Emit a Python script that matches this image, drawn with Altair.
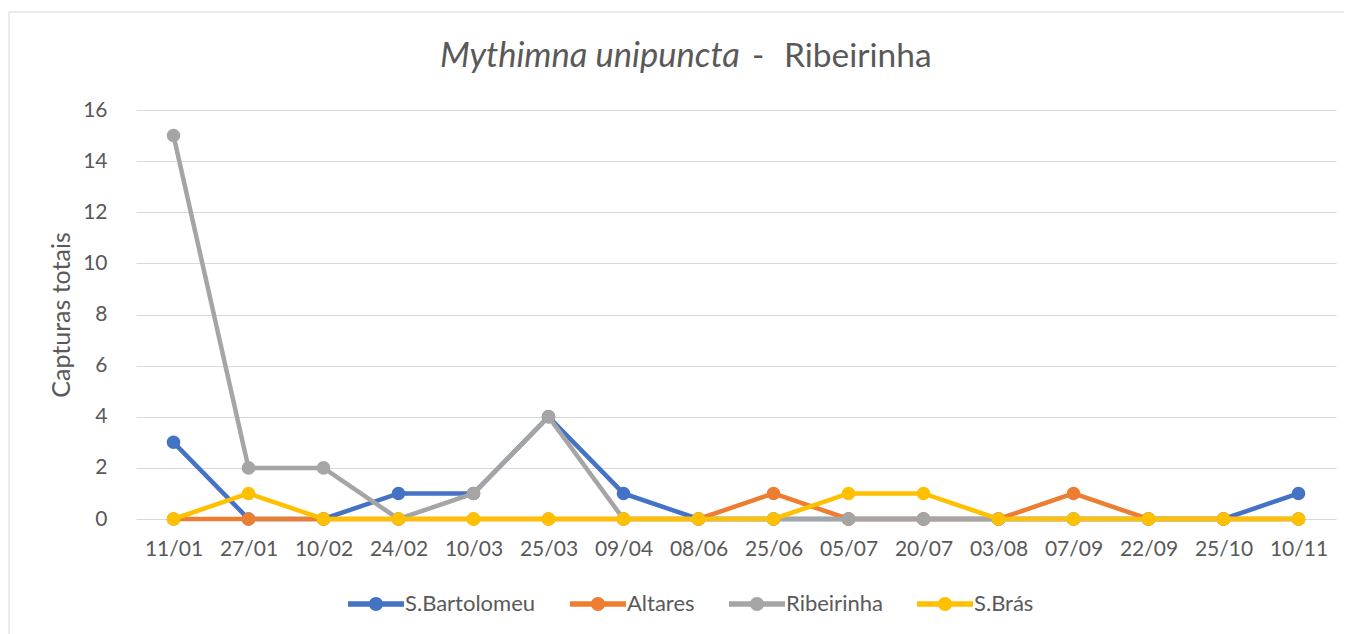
import altair as alt
import pandas as pd

dates = ["11/01", "27/01", "10/02", "24/02", "10/03", "25/03", "09/04", "08/06",
         "25/06", "05/07", "20/07", "03/08", "07/09", "22/09", "25/10", "10/11"]
series_names = ["S.Bartolomeu", "Altares", "Ribeirinha", "S.Brás"]
s_bartolomeu = [3, 0, 0, 1, 1, 4, 1, 0, 0, 0, 0, 0, 0, 0, 0, 1]
altares = [0, 0, 0, 0, 0, 0, 0, 0, 1, 0, 0, 0, 1, 0, 0, 0]
ribeirinha = [15, 2, 2, 0, 1, 4, 0, 0, 0, 0, 0, 0, 0, 0, 0, 0]
s_bras = [0, 1, 0, 0, 0, 0, 0, 0, 0, 1, 1, 0, 0, 0, 0, 0]
colors = ["#4472C4", "#ED7D31", "#A5A5A5", "#FFC000"]

title_italic = "Mythimna unipuncta"
title_dash = "-"
title_rest = "Ribeirinha"
y_title = "Capturas totais"

values = [s_bartolomeu, altares, ribeirinha, s_bras]
rows = []
for name, vals in zip(series_names, values):
    for d, v in zip(dates, vals):
        rows.append({"date": d, "series": name, "value": v})
df = pd.DataFrame(rows)

TXT = "#595959"
GRID = "#D9D9D9"

x_enc = alt.X("date:N", sort=dates, scale=alt.Scale(padding=0.5),
              axis=alt.Axis(title=None, labelAngle=0, domain=False, ticks=False,
                            labelPadding=19, labelFontSize=21, labelColor=TXT, grid=False))
y_enc = alt.Y("value:Q", scale=alt.Scale(domain=[0, 16], nice=False),
              axis=alt.Axis(values=list(range(0, 17, 2)), domain=False, ticks=False, tickSize=0,
                            labelPadding=29, labelFontSize=21, labelColor=TXT,
                            grid=True, gridColor=GRID, gridWidth=1,
                            title=y_title, titleFontSize=25, titleColor=TXT,
                            titleFontWeight="normal", titleAngle=-90, titleX=-75, titleY=204.5,
                            titleAlign="center", titleBaseline="middle"))

legend_path = ("M-1,-0.1L1,-0.1L1,0.1L-1,0.1Z "
               "M0.25,0A0.25,0.25,0,1,1,-0.25,0A0.25,0.25,0,1,1,0.25,0Z")

color_enc = alt.Color("series:N", sort=series_names,
                      scale=alt.Scale(domain=series_names, range=colors),
                      legend=alt.Legend(title=None, orient="none", legendX=212, legendY=466,
                                        direction="horizontal", columns=4,
                                        symbolType=legend_path, symbolSize=3136,
                                        symbolStrokeWidth=0, symbolOpacity=1,
                                        labelFontSize=22, labelColor=TXT, labelOffset=1,
                                        columnPadding=34, padding=0))

base = alt.Chart(df)
layers = []
for name, col in zip(series_names, colors):
    sub = base.transform_filter(alt.datum.series == name)
    layers.append(sub.mark_line(strokeWidth=4.5, color=col).encode(x=x_enc, y=y_enc))
    layers.append(sub.mark_point(filled=True, size=185, opacity=1).encode(
        x=x_enc, y=y_enc, color=color_enc))

one = pd.DataFrame({"k": [0]})
frame_top = alt.Chart(one).mark_rule(color=GRID, strokeWidth=1).encode(
    x=alt.value(-127), x2=alt.value(1216), y=alt.value(-98))
frame_left = alt.Chart(one).mark_rule(color=GRID, strokeWidth=1).encode(
    x=alt.value(-127), y=alt.value(-98), y2=alt.value(524))

t1 = alt.Chart(pd.DataFrame({"t": [title_italic]})).mark_text(
    fontSize=34.5, fontStyle="italic", color=TXT, align="right", baseline="alphabetic").encode(
    text="t:N", x=alt.value(604), y=alt.value(-43))
t2 = alt.Chart(pd.DataFrame({"t": [title_dash]})).mark_text(
    fontSize=33, color=TXT, align="center", baseline="alphabetic").encode(
    text="t:N", x=alt.value(622), y=alt.value(-43))
t3 = alt.Chart(pd.DataFrame({"t": [title_rest]})).mark_text(
    fontSize=33.5, color=TXT, align="left", baseline="alphabetic").encode(
    text="t:N", x=alt.value(648), y=alt.value(-43))

chart = alt.layer(frame_top, frame_left, *layers, t1, t2, t3).properties(
    width=1200, height=409,
    autosize=alt.AutoSizeParams(type="none"),
    padding={"left": 128, "top": 102, "right": 8, "bottom": 115},
).configure(font="Lato").configure_view(stroke=None)

chart.save("out.html", embed_options={"renderer": "svg", "actions": False})
